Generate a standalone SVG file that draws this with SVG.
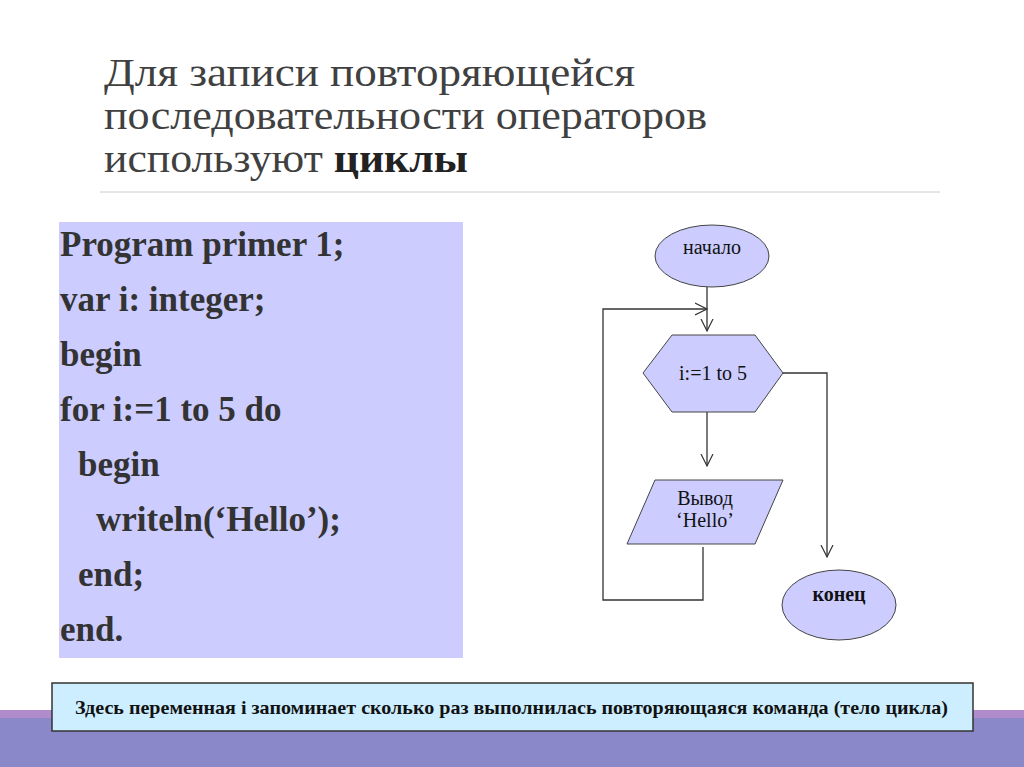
<svg xmlns="http://www.w3.org/2000/svg" width="1024" height="767" viewBox="0 0 1024 767">
<style>
.t{font-family:"Liberation Serif",serif;font-size:41px;fill:#404040}
.c{font-family:"Liberation Serif",serif;font-size:35px;font-weight:bold;fill:#333}
.f{font-family:"Liberation Serif",serif;font-size:20px;fill:#111;text-anchor:middle}
.s{fill:#ccccff;stroke:#444;stroke-width:1}
.l{fill:none;stroke:#333;stroke-width:1.3}
</style>
<defs><marker id="a" markerWidth="14" markerHeight="14" refX="12" refY="7" orient="auto" markerUnits="userSpaceOnUse"><path d="M0,1 L12,7 L0,13" fill="none" stroke="#333" stroke-width="1.2"/></marker></defs>
<rect width="1024" height="767" fill="#fff"/>
<rect x="0" y="710" width="1024" height="8" fill="#b08ccc"/>
<rect x="0" y="718" width="1024" height="49" fill="#8a88c8"/>
<g id="title">
<text class="t" x="104" y="86" textLength="531" lengthAdjust="spacingAndGlyphs">Для  записи повторяющейся</text>
<text class="t" x="104" y="129" textLength="603" lengthAdjust="spacingAndGlyphs">последовательности операторов</text>
<text class="t" x="104" y="172" textLength="364" lengthAdjust="spacingAndGlyphs">используют <tspan font-weight="bold" fill="#222">циклы</tspan></text>
<line x1="100" y1="192" x2="940" y2="192" stroke="#ccc" stroke-width="1"/>
</g>
<g id="code">
<rect x="59" y="222" width="404" height="436" fill="#ccccff"/>
<text class="c" x="60" y="256">Program primer 1;</text>
<text class="c" x="60" y="311">var i: integer;</text>
<text class="c" x="60" y="366">begin</text>
<text class="c" x="60" y="421">for i:=1 to 5 do</text>
<text class="c" x="78" y="476">begin</text>
<text class="c" x="96" y="531">writeln(‘Hello’);</text>
<text class="c" x="78" y="586">end;</text>
<text class="c" x="60" y="641">end.</text>
</g>
<g id="connectors">
<line class="l" x1="707" y1="287" x2="707" y2="331" marker-end="url(#a)"/>
<polyline class="l" points="703,547 703,600 603,600 603,309 707,309" marker-end="url(#a)"/>
<line class="l" x1="707" y1="412" x2="707" y2="466" marker-end="url(#a)"/>
<polyline class="l" points="783,373 827,373 827,557" marker-end="url(#a)"/>
</g>
<g id="start"><ellipse class="s" cx="712" cy="256" rx="57" ry="31"/><text class="f" x="712" y="254">начало</text></g>
<g id="loop"><polygon class="s" points="643,373 672,335 755,335 783,373 755,412 672,412"/><text class="f" x="713" y="380">i:=1 to 5</text></g>
<g id="out"><polygon class="s" points="655,480 783,480 755,544 627,544"/><text class="f" x="705" y="505">Вывод</text><text class="f" x="705" y="527">‘Hello’</text></g>
<g id="end"><ellipse class="s" cx="839" cy="605" rx="57" ry="35"/><text class="f" x="839" y="601" font-weight="bold">конец</text></g>
<g id="note">
<rect x="52" y="683" width="921" height="48" fill="#cceeff" stroke="#333" stroke-width="1.5"/>
<text x="75" y="714" textLength="873" lengthAdjust="spacingAndGlyphs" font-family="Liberation Serif,serif" font-size="19" font-weight="bold" fill="#111">Здесь переменная i запоминает сколько раз выполнилась повторяющаяся команда (тело цикла)</text>
</g>
</svg>
